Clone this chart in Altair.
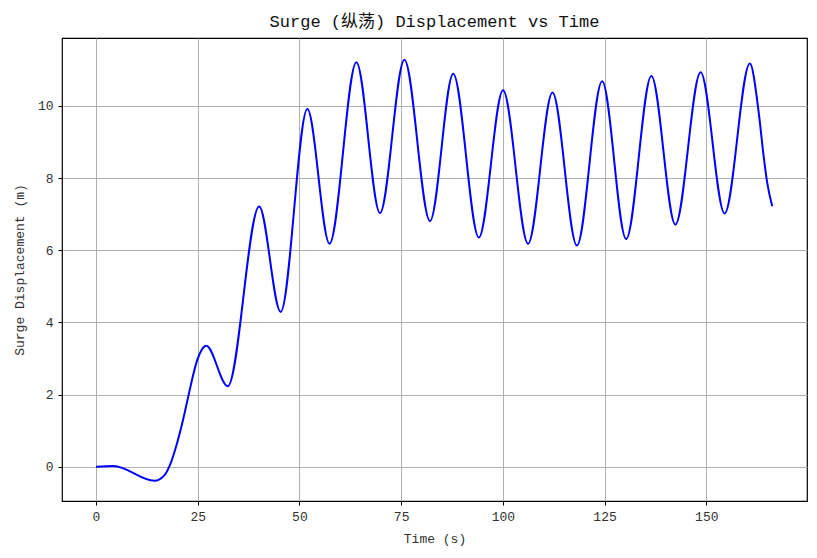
import altair as alt
import pandas as pd

# Values
time_s = [0, 4.3, 14.4, 16.8, 18.2, 19.8, 21.3, 22.6, 23.9, 24.9, 26.0, 27.1,
          32.4, 40.1, 45.4, 51.95, 57.4, 64.0, 69.8, 75.8, 82.1, 87.8, 94.1, 100.05,
          106.2, 112.2, 118.2, 124.4, 130.3, 136.5, 142.4, 148.6, 154.5, 160.7,
          162.9, 164.1, 165.0, 166.2]
surge_m = [0, 0.02, -0.39, -0.24, 0.05, 0.6, 1.25, 1.9, 2.55, 2.96, 3.24, 3.35,
           2.23, 7.21, 4.29, 9.91, 6.18, 11.21, 7.03, 11.28, 6.81, 10.89, 6.35, 10.43,
           6.18, 10.37, 6.13, 10.68, 6.31, 10.83, 6.71, 10.93, 7.02, 11.17,
           9.8, 8.6, 7.85, 7.22]
x_ticks = [0, 25, 50, 75, 100, 125, 150]
y_ticks = [0, 2, 4, 6, 8, 10]

title_text = "Surge (纵荡) Displacement vs Time"
x_title = "Time (s)"
y_title = "Surge Displacement (m)"

df = pd.DataFrame({"t": time_s, "v": surge_m})

FONT = "Liberation Mono, Noto Sans CJK SC, monospace"

line = alt.Chart(df).mark_line(
    color="#0000ff", strokeWidth=2, interpolate="monotone", clip=True
).encode(
    x=alt.X("t:Q",
            scale=alt.Scale(domain=[-8.35, 174.75], nice=False, zero=False),
            axis=alt.Axis(values=x_ticks, title=x_title, labelPadding=5,
                          titlePadding=9, format="d")),
    y=alt.Y("v:Q",
            scale=alt.Scale(domain=[-0.95, 11.88], nice=False, zero=False),
            axis=alt.Axis(values=y_ticks, title=y_title, labelPadding=5,
                          titlePadding=11, format="d")),
)

chart = line.properties(
    width=745,
    height=463,
    title=alt.TitleParams(title_text, font=FONT, fontSize=17, fontWeight="normal",
                          anchor="middle", offset=7, color="#111111"),
    autosize=alt.AutoSizeParams(type="none"),
    padding={"left": 54, "top": 30, "right": 2, "bottom": 48},
).configure_view(
    stroke="#000000", strokeWidth=1.2
).configure_axis(
    domain=False,
    grid=True,
    gridColor="#b0b0b0",
    gridWidth=1,
    tickColor="#000000",
    tickSize=4,
    tickWidth=1,
    labelFont=FONT,
    labelFontSize=13,
    labelColor="#333333",
    titleFont=FONT,
    titleFontSize=13,
    titleFontWeight="normal",
    titleColor="#333333",
)

chart.save("out.html", embed_options={"renderer": "svg", "actions": False})
